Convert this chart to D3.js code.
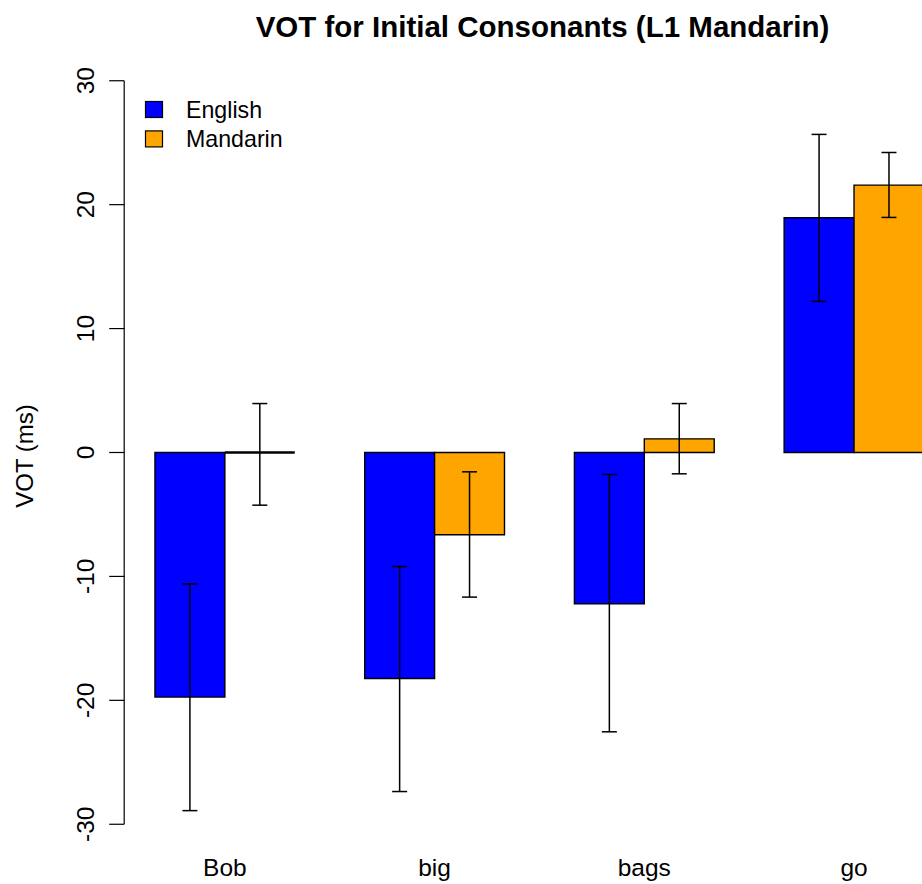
<!DOCTYPE html>
<html>
<head>
<meta charset="utf-8">
<style>
  body { margin: 0; background: #fff; }
  text { font-family: "Liberation Sans", Arial, Helvetica, sans-serif; fill: #000; }
</style>
</head>
<body>
<div id="chart"></div>
<script src="https://cdn.jsdelivr.net/npm/d3@7"></script>
<script>
const words = ['Bob', 'big', 'bags', 'go'];
const languages = ['English', 'Mandarin'];
const colors = ['#0000ff', '#ffa500'];
const englishVot = [-19.74, -18.24, -12.2, 18.94];
const mandarinVot = [0, -6.64, 1.1, 21.58];
const englishLow = [-28.9, -27.36, -22.54, 12.19];
const englishHigh = [-10.6, -9.2, -1.77, 25.67];
const mandarinLow = [-4.25, -11.67, -1.72, 18.97];
const mandarinHigh = [3.95, -1.56, 3.95, 24.21];
const yTicks = [-30, -20, -10, 0, 10, 20, 30];

const width = 922, height = 884;
const fs = 24;

const svg = d3.select('#chart').append('svg')
  .attr('width', width).attr('height', height);

// R barplot style user coords: bars of width 1, one bar gap between groups
const x = d3.scaleLinear().domain([0.56, 12.44]).range([124.2, 954.7]);
const y = d3.scaleLinear().domain([-32.4, 32.4]).range([854, 51]);

const bars = [];
words.forEach((w, g) => {
  [englishVot, mandarinVot].forEach((vals, i) => {
    const lows = i === 0 ? englishLow : mandarinLow;
    const highs = i === 0 ? englishHigh : mandarinHigh;
    bars.push({ word: w, lang: i, x0: 1 + 3 * g + i, v: vals[g], lo: lows[g], hi: highs[g] });
  });
});

svg.append('g').selectAll('path').data(bars).enter().append('path')
  .attr('d', d => {
    const a = x(d.x0), b = x(d.x0 + 1), y0 = y(0), y1 = y(d.v);
    return `M${a},${y0}H${b}V${y1}H${a}Z`;
  })
  .attr('fill', d => colors[d.lang])
  .attr('stroke', '#000')
  .attr('stroke-width', d => Math.abs(y(d.v) - y(0)) < 1 ? 2.6 : 1.4);

// error bars
const err = svg.append('g').attr('stroke', '#000').attr('stroke-width', 1.5);
bars.forEach(d => {
  const cx = x(d.x0 + 0.5);
  err.append('line').attr('x1', cx).attr('x2', cx).attr('y1', y(d.lo)).attr('y2', y(d.hi));
  [d.lo, d.hi].forEach(v => {
    err.append('line').attr('x1', cx - 7.5).attr('x2', cx + 7.5).attr('y1', y(v)).attr('y2', y(v));
  });
});

// y axis
const ax = svg.append('g').attr('stroke', '#000').attr('stroke-width', 1.2);
ax.append('line').attr('x1', x(0.56)).attr('x2', x(0.56)).attr('y1', y(-30)).attr('y2', y(30));
yTicks.forEach(t => {
  ax.append('line').attr('x1', x(0.56) - 15).attr('x2', x(0.56)).attr('y1', y(t)).attr('y2', y(t));
  svg.append('text')
    .attr('transform', `translate(94,${y(t)}) rotate(-90)`)
    .attr('text-anchor', 'middle')
    .style('font-size', '24.5px')
    .text(t);
});

// category labels
words.forEach((w, g) => {
  svg.append('text')
    .attr('x', x(2 + 3 * g)).attr('y', 876)
    .attr('text-anchor', 'middle')
    .style('font-size', '24.5px')
    .text(w);
});

// y title
svg.append('text')
  .attr('transform', `translate(33,456) rotate(-90)`)
  .attr('text-anchor', 'middle')
  .style('font-size', fs + 'px')
  .text('VOT (ms)');

// title
svg.append('text')
  .attr('x', (x(0.56) + x(12.44)) / 2 + 3).attr('y', 37)
  .attr('text-anchor', 'middle')
  .style('font-size', '29.5px').style('font-weight', 'bold')
  .text('VOT for Initial Consonants (L1 Mandarin)');

// legend
languages.forEach((l, i) => {
  const cy = 109.5 + i * 29.4;
  svg.append('rect')
    .attr('x', 145.5).attr('y', cy - 8).attr('width', 17).attr('height', 16)
    .attr('fill', colors[i]).attr('stroke', '#000').attr('stroke-width', 1.2);
  svg.append('text')
    .attr('x', 186).attr('y', cy + 8.5)
    .style('font-size', '23.2px')
    .text(l);
});
</script>
</body>
</html>
